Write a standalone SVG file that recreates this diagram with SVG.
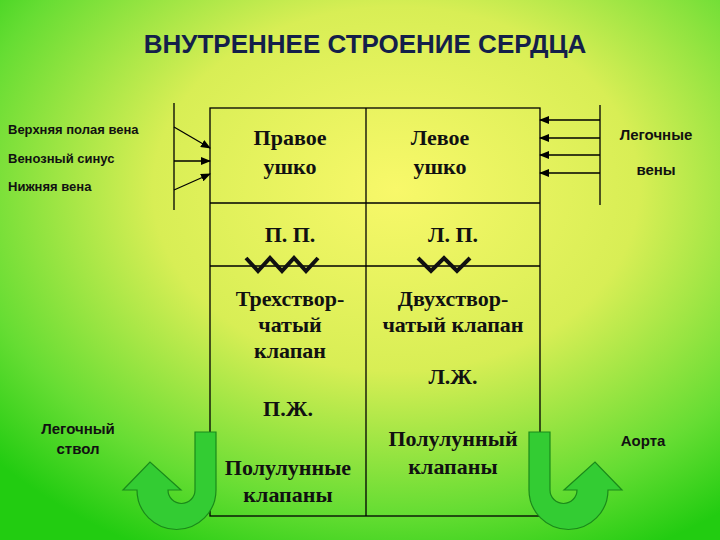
<svg xmlns="http://www.w3.org/2000/svg" width="720" height="540" viewBox="0 0 720 540">
<defs>
<radialGradient id="bg" cx="0.55" cy="0.35" r="0.75">
<stop offset="0" stop-color="#f8f86a"/><stop offset="0.45" stop-color="#d8ee55"/><stop offset="0.8" stop-color="#66dd33"/><stop offset="1" stop-color="#22cc11"/>
</radialGradient>
<marker id="ah" markerWidth="10" markerHeight="8" refX="9" refY="4" orient="auto" markerUnits="userSpaceOnUse"><path d="M0,0 L10,4 L0,8 Z" fill="#000"/></marker>
<style>
.s{font-family:"Liberation Sans",Arial,sans-serif;font-weight:bold;fill:#111}
.t{font-family:"Liberation Serif","Times New Roman",serif;font-weight:bold;font-size:22px;fill:#111;text-anchor:middle}
.l{stroke:#000;stroke-width:1.3;fill:none}
.u{fill:#33cc33;stroke:#1a8a1a;stroke-width:1.2}
</style>
</defs>
<rect width="720" height="540" fill="url(#bg)"/>
<text x="365" y="53" class="s" font-size="26" text-anchor="middle" style="fill:#141f4a">ВНУТРЕННЕЕ СТРОЕНИЕ СЕРДЦА</text>
<g id="box">
<rect x="210" y="108" width="330" height="408" class="l"/>
<line x1="210" y1="203" x2="540" y2="203" class="l"/>
<line x1="210" y1="266" x2="540" y2="266" class="l"/>
<line x1="366" y1="108" x2="366" y2="516" class="l"/>
</g>
<g id="cells">
<text x="290" y="145" class="t">Правое</text><text x="290" y="174" class="t">ушко</text>
<text x="440" y="145" class="t">Левое</text><text x="440" y="174" class="t">ушко</text>
<text x="290" y="242" class="t">П. П.</text>
<text x="453" y="242" class="t">Л. П.</text>
<text x="290" y="306" class="t">Трехствор-</text><text x="290" y="332" class="t">чатый</text><text x="290" y="358" class="t">клапан</text>
<text x="453" y="306" class="t">Двухствор-</text><text x="453" y="332" class="t">чатый клапан</text>
<text x="453" y="384" class="t">Л.Ж.</text>
<text x="288" y="416" class="t">П.Ж.</text>
<text x="288" y="475" class="t">Полулунные</text><text x="288" y="502" class="t">клапаны</text>
<text x="453" y="446" class="t">Полулунный</text><text x="453" y="474" class="t">клапаны</text>
</g>
<g id="valves" fill="none" stroke="#111" stroke-width="4">
<polyline points="246,258 258,271 270,258 282,271 294,258 306,271 318,258"/>
<polyline points="418,258 431,271 444,258 457,271 470,258"/>
</g>
<g id="labels" class="s">
<text x="8" y="134" font-size="13">Верхняя полая вена</text>
<text x="8" y="163" font-size="13">Венозный синус</text>
<text x="8" y="191" font-size="13">Нижняя вена</text>
<text x="656" y="140" font-size="15" text-anchor="middle">Легочные</text>
<text x="656" y="175" font-size="15" text-anchor="middle">вены</text>
<text x="78" y="434" font-size="15" text-anchor="middle">Легочный</text>
<text x="78" y="454" font-size="15" text-anchor="middle">ствол</text>
<text x="643" y="446" font-size="15" text-anchor="middle">Аорта</text>
</g>
<g id="connectors">
<line x1="174" y1="103" x2="174" y2="210" class="l"/>
<line x1="174" y1="127" x2="210" y2="148" class="l" marker-end="url(#ah)"/>
<line x1="174" y1="161" x2="210" y2="161" class="l" marker-end="url(#ah)"/>
<line x1="174" y1="190" x2="210" y2="174" class="l" marker-end="url(#ah)"/>
<line x1="600" y1="105" x2="600" y2="205" class="l"/>
<line x1="600" y1="120" x2="540" y2="120" class="l" marker-end="url(#ah)"/>
<line x1="600" y1="138" x2="540" y2="138" class="l" marker-end="url(#ah)"/>
<line x1="600" y1="155" x2="540" y2="155" class="l" marker-end="url(#ah)"/>
<line x1="600" y1="173" x2="540" y2="173" class="l" marker-end="url(#ah)"/>
</g>
<g id="uturn-left">
<path class="u" d="M195,432 L216,432 L216,490 A39.5,39.5 0 0 1 137,490 L123,490 L150,462 L181,490 L168,490 A13.5,13.5 0 0 0 195,490 Z"/>
</g>
<g id="uturn-right">
<path class="u" d="M550,432 L529,432 L529,490 A39.5,39.5 0 0 0 608,490 L622,490 L595,462 L564,490 L577,490 A13.5,13.5 0 0 1 550,490 Z"/>
</g>
</svg>
